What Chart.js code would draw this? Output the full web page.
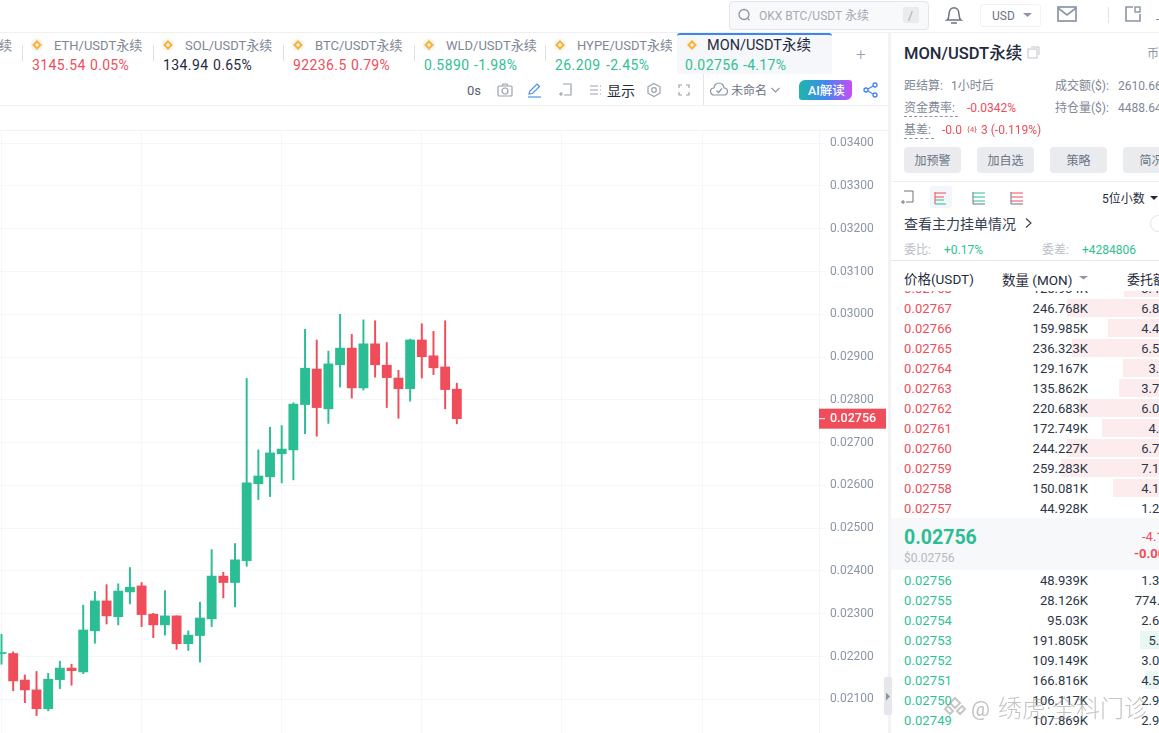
<!DOCTYPE html>
<html>
<head>
<meta charset="utf-8">
<title>MON/USDT</title>
<script src="https://cdn.jsdelivr.net/npm/chart.js@4"></script>
<style>
html,body{margin:0;padding:0;width:1159px;height:733px;overflow:hidden;background:#fff}
body{font-family:Roboto,"Noto Sans CJK SC",sans-serif;color:#1f2a3d;position:relative}
.t{position:absolute;white-space:nowrap;line-height:18px;transform:translateY(-8.5px)}
.b{position:absolute}
svg{position:absolute;overflow:visible}
#wrap{position:absolute;left:0;top:130px;width:887px;height:603px}
</style>
</head>
<body>
<div id="wrap"><canvas id="kline" width="887" height="603"></canvas></div>
<div id="ui"></div>
<script>
// candles
const candleIdx = [0,1,2,3,4,5,6,7,8,9,10,11,12,13,14,15,16,17,18,19,20,21,22,23,24,25,26,27,28,29,30,31,32,33,34,35,36,37,38,39]
const opens  = [.02207,.02207,.02145,.02122,.02078,.02146,.02173,.02164,.02260,.02330,.02293,.02351,.02365,.02299,.02274,.02295,.02230,.02249,.02288,.02388,.02373,.02424,.02604,.02620,.02674,.02683,.02789,.02872,.02779,.02882,.02921,.02828,.02931,.02881,.02851,.02826,.02940,.02903,.02877,.02825]
const highs  = [.02252,.02211,.02157,.02165,.02161,.02189,.02182,.02320,.02352,.02368,.02370,.02408,.02373,.02301,.02354,.02295,.02260,.02327,.02450,.02397,.02464,.02850,.02683,.02736,.02740,.02793,.02965,.02940,.02914,.03000,.02953,.02987,.02985,.02934,.02869,.02942,.02978,.02960,.02985,.02839]
const lows   = [.02182,.02120,.02092,.02062,.02073,.02125,.02133,.02160,.02231,.02276,.02274,.02323,.02270,.02244,.02250,.02217,.02214,.02187,.02270,.02337,.02316,.02411,.02567,.02574,.02606,.02613,.02721,.02715,.02745,.02830,.02804,.02823,.02853,.02782,.02757,.02797,.02851,.02859,.02779,.02744]
const closes = [.02207,.02143,.02122,.02078,.02147,.02173,.02167,.02262,.02330,.02295,.02353,.02362,.02298,.02274,.02295,.02230,.02250,.02290,.02388,.02373,.02426,.02606,.02622,.02676,.02685,.02790,.02874,.02782,.02884,.02921,.02828,.02931,.02882,.02852,.02826,.02940,.02901,.02875,.02824,.02756]
const priceTicks = [.034,.033,.032,.031,.03,.029,.028,.027,.026,.025,.024,.023,.022,.021]
const timeTicks = [0,12,24,36,48,60]

// order book
const askPrices = ['0.02768','0.02767','0.02766','0.02765','0.02764','0.02763','0.02762','0.02761','0.02760','0.02759','0.02758','0.02757']
const askQty = ['125.934K','246.768K','159.985K','236.323K','129.167K','135.862K','220.683K','172.749K','244.227K','259.283K','150.081K','44.928K']
const askAmt = ['3.486K','6.828K','4.425K','6.534K','3.57K','3.754K','6.095K','4.77K','6.741K','7.154K','4.139K','1.239K']
const askDepth = [35,92,51,87,36,40,80,57,92,98,46,0]
const bidPrices = ['0.02756','0.02755','0.02754','0.02753','0.02752','0.02751','0.02750','0.02749']
const bidQty = ['48.939K','28.126K','95.03K','191.805K','109.149K','166.816K','106.117K','107.869K']
const bidAmt = ['1.349K','774.871','2.617K','5.28K','3.003K','4.589K','2.918K','2.965K']
const bidDepth = [0,0,0,19,0,14,0,0]

// ticker tabs
const tabNames = ['ETH/USDT永续','SOL/USDT永续','BTC/USDT永续','WLD/USDT永续','HYPE/USDT永续','MON/USDT永续']
const tabPrices = ['3145.54','134.94','92236.5','0.5890','26.209','0.02756']
const tabChanges = ['0.05%','0.65%','0.79%','-1.98%','-2.45%','-4.17%']

const RED = '#f04d5a', GREEN = '#2bbd93', GREEN_TXT = '#30c192', GREY = '#7d8796', DARK = '#1f2a3d'
const candleColors = closes.map((c, i) => c >= opens[i] ? GREEN : RED)

const lastPriceTag = {
  id: 'lastPriceTag',
  afterDraw(chart) {
    const y = chart.scales.y
    const py = y.getPixelForValue(closes[closes.length - 1])
    const c = chart.ctx
    c.save()
    c.fillStyle = RED
    c.fillRect(819, py - 10, 67, 20)
    c.fillStyle = '#fff'
    c.fillRect(819, py - 0.5, 6, 1)
    c.font = '500 12.5px Roboto'
    c.textBaseline = 'middle'
    c.fillText('0.02756', 830, py + 0.5)
    c.restore()
  }
}

new Chart(document.getElementById('kline').getContext('2d'), {
  type: 'bar',
  data: {
    labels: candleIdx,
    datasets: [
      { data: candleIdx.map(i => [lows[i], highs[i]]), backgroundColor: candleColors, barThickness: 1.3, grouped: false },
      { data: candleIdx.map(i => [opens[i], closes[i]]), backgroundColor: candleColors, barThickness: 9.2, grouped: false, minBarLength: 1 }
    ]
  },
  options: {
    responsive: false,
    animation: false,
    plugins: { legend: { display: false }, tooltip: { enabled: false } },
    layout: { padding: 0 },
    scales: {
      x: {
        type: 'linear', min: -0.128, max: 70.02, offset: false,
        afterBuildTicks: s => { s.ticks = timeTicks.map(v => ({ value: v })) },
        ticks: { display: false },
        grid: { color: '#f6f7f9', drawTicks: false, offset: false },
        border: { display: false }
      },
      y: {
        position: 'right', min: 0.020212, max: 0.0343086,
        afterBuildTicks: s => { s.ticks = priceTicks.map(v => ({ value: v })) },
        afterFit: s => { s.width = 68; s.paddingTop = 0; s.paddingBottom = 0 },
        ticks: { callback: v => v.toFixed(5), color: '#8b95a5', font: { family: 'Roboto', size: 12 }, padding: 5 },
        grid: { color: '#f6f7f9', tickLength: 6 },
        border: { color: '#f3f4f6' }
      }
    }
  },
  plugins: [lastPriceTag]
})

// page around the chart
const ui = document.getElementById('ui')
function txt(x, y, s, size, color, extra) {
  const d = document.createElement('div')
  d.className = 't'
  d.textContent = s
  d.style.cssText = `left:${x}px;top:${y}px;font-size:${size}px;color:${color};${extra || ''}`
  ui.appendChild(d)
  return d
}
function box(x, y, w, h, css) {
  const d = document.createElement('div')
  d.className = 'b'
  d.style.cssText = `left:${x}px;top:${y}px;width:${w}px;height:${h}px;${css}`
  ui.appendChild(d)
  return d
}
function icon(x, y, inner) {
  const s = `<svg style="left:${x}px;top:${y}px" width="20" height="20" viewBox="0 0 20 20" fill="none">${inner}</svg>`
  ui.insertAdjacentHTML('beforeend', s)
}
function coin(cx, cy) {
  icon(cx - 10, cy - 10, `<circle cx="10" cy="10" r="6.5" fill="#f4f4f4"/><path d="M10 6.500l3.500 3.500-3.500 3.500-3.500-3.500z" fill="none" stroke="#f9b233" stroke-width="2"/>`)
}

// lines and panel
box(0, 32, 1159, 1, 'background:#eef0f4')
box(888, 33, 3, 700, 'background:#f2f3f7')
box(0, 105, 888, 1, 'background:#f0f2f5')
box(0, 130, 888, 1, 'background:#f0f2f5')

// top bar
box(729, 1, 198, 27, 'background:#f8f9fb;border:1px solid #e2e5ea;border-radius:4px')
icon(734, 5, `<circle cx="10" cy="9.500" r="5" stroke="#8b95a5" stroke-width="1.3"/><path d="M13.500 13.200l2 2" stroke="#8b95a5" stroke-width="1.3"/>`)
txt(759, 15, 'OKX BTC/USDT 永续', 12, '#a3a9b4')
box(903, 7, 16, 16, 'background:#e9ebee;border-radius:2px')
txt(908, 15, '/', 12, '#a3a9b4')
icon(944, 5, `<path d="M3 15c3-2 1-6 3-10 1.500-3 6.500-3 8 0 2 4 0 8 3 10z" stroke="#6b7482" stroke-width="1.500"/><path d="M7 18h6" stroke="#6b7482" stroke-width="1.500"/>`)
box(980, 4, 59, 21, 'border:1px solid #f2f3f5;border-radius:3px')
txt(992, 15, 'USD', 12, '#6b7482')
icon(1022, 6, `<path d="M1 7h9l-4.500 4z" fill="#8b95a5"/>`)
icon(1057, 5, `<rect x="1" y="2" width="18" height="14" stroke="#8b95a5" stroke-width="1.700"/><path d="M1 3l9 7 9-7" stroke="#8b95a5" stroke-width="1.700"/>`)
box(1108, 7, 1, 16, 'background:#dfe2e7')
icon(1124, 5, `<path d="M9 2H2v14h14V9" stroke="#8b95a5" stroke-width="1.600"/><rect x="11" y="2" width="5" height="5" stroke="#8b95a5" stroke-width="1.400"/>`)
box(1156, 19, 3, 1, 'background:#8b95a5')

// tabs
const tabX = [22, 153, 283, 414, 545, 676]
const tabPriceColor = [RED, DARK, RED, GREEN_TXT, GREEN_TXT, GREEN_TXT]
const tabChangeX = [90, 213, 351, 474, 606, 743]
txt(-1, 45, '续', 13, GREY)
box(677, 33, 155, 41, 'background:#f5f7fa;border-radius:3px;border-top:2px solid #3d84f5;box-sizing:border-box')
tabNames.forEach((n, i) => {
  const x = tabX[i]
  const active = i == 5
  if (!active) box(x, 45, 1, 16, 'background:#dde0e5')
  coin(x + (active ? 16 : 15), 45)
  const nameEl = txt(x + (active ? 31 : 32), 45, n, active ? 14.5 : 13, active ? DARK : GREY)
  if (i == 4) { nameEl.style.width = '95px'; nameEl.style.overflow = 'hidden' }
  txt(x + (active ? 9 : 10), 64, tabPrices[i], 14, tabPriceColor[i], 'letter-spacing:.4px')
  txt(tabChangeX[i], 64, tabChanges[i], 14, tabPriceColor[i], 'letter-spacing:.3px')
})
txt(856, 53, '+', 17, '#9aa2ad', 'font-weight:300')

// toolbar
txt(467, 90, '0s', 13, '#556070')
icon(495, 80, `<rect x="3" y="6" width="14" height="10" rx="1" stroke="#9aa2ad" stroke-width="1.200"/><circle cx="10" cy="11" r="3" stroke="#9aa2ad" stroke-width="1.200"/><path d="M7 6l1-2h4l1 2" stroke="#9aa2ad" stroke-width="1.200"/>`)
icon(525, 80, `<path d="M4 14l1-3 7-7 2.500 2.500-7 7z" stroke="#4a90e8" stroke-width="1.200"/><path d="M3 17h13" stroke="#4a90e8" stroke-width="1.200"/>`)
icon(555, 80, `<path d="M8 4h8v11H9" stroke="#9aa2ad" stroke-width="1.200"/><path d="M6 12v4M4 14h4" stroke="#9aa2ad" stroke-width="1.200"/>`)
icon(585, 80, `<path d="M5 6h11M5 10h11M5 14h11" stroke="#9aa2ad" stroke-width="1.200" stroke-dasharray="8 2"/>`)
txt(607, 90, '显示', 14, DARK)
icon(644, 80, `<path d="M10 3.500l6 3.300v6.400l-6 3.300-6-3.300V6.800z" stroke="#9aa2ad" stroke-width="1.200"/><circle cx="10" cy="10" r="2.300" stroke="#9aa2ad" stroke-width="1.200"/>`)
icon(674, 80, `<path d="M5 8V5h3M12 5h3v3M15 12v3h-3M8 15H5v-3" stroke="#9aa2ad" stroke-width="1.200"/>`)
box(703, 74, 1, 31, 'background:#e3e5e9')
icon(709, 80, `<path d="M5 15a3.500 3.500 0 0 1 0-7 5 5 0 0 1 10 0 3.500 3.500 0 0 1 0 7z" stroke="#8b95a5" stroke-width="1.200"/><path d="M7.500 10.500l2 2 3.500-4" stroke="#8b95a5" stroke-width="1.200"/>`)
txt(731, 90, '未命名', 12, '#6b7482')
icon(766, 80, `<path d="M5.500 8l4 4 4-4" stroke="#8b95a5" stroke-width="1.100"/>`)
box(799, 80, 53, 20, 'background:linear-gradient(90deg,#1fb5a8,#3f8af0 50%,#c94cf7);border-radius:6px 3px 6px 3px')
txt(808, 90, 'AI解读', 12.5, '#fff', 'font-weight:500')
icon(861, 79, `<circle cx="5" cy="11" r="2" stroke="#3d84f5" stroke-width="1.300"/><circle cx="14" cy="6" r="2" stroke="#3d84f5" stroke-width="1.300"/><circle cx="14" cy="16" r="2" stroke="#3d84f5" stroke-width="1.300"/><path d="M7 10l5-3M7 12l5 3" stroke="#3d84f5" stroke-width="1.300"/>`)

// market panel
txt(904, 53, 'MON/USDT永续', 16.5, DARK, 'font-weight:500')
icon(1024, 43, `<rect x="4" y="6" width="9" height="9" stroke="#bfc4cc"/><path d="M7 4h8v8" stroke="#bfc4cc"/>`)
txt(1147, 53, '币', 12, '#8b95a5')
txt(904, 85, '距结算:', 12, GREY)
txt(951, 85, '1小时后', 12, GREY)
txt(1055, 85, '成交额($):', 12, GREY)
txt(1118, 85, '2610.66', 12, GREY)
txt(904, 107, '资金费率:', 12, GREY)
box(904, 116, 54, 0, 'border-top:1px dashed #8b95a5')
txt(967, 107, '-0.0342%', 12, RED)
txt(1055, 107, '持仓量($):', 12, GREY)
txt(1118, 107, '4488.64', 12, GREY)
txt(904, 129, '基差:', 12, GREY)
box(904, 138, 30, 0, 'border-top:1px dashed #8b95a5')
txt(942, 129, '-0.0', 12, RED)
txt(967, 129, '{4}', 8, RED)
txt(981, 129, '3 (-0.119%)', 12, RED)
const btnLabels = ['加预警', '加自选', '策略', '简况']
const btnX = [904, 977, 1050, 1123]
btnLabels.forEach((s, i) => {
  box(btnX[i], 147, 57, 26, 'background:#e9ebef;border-radius:4px')
  txt(btnX[i], 160, s, 12, '#6b7482', 'width:57px;text-align:center')
})
box(891, 181, 268, 1, 'background:#eceef2')
box(930, 186, 22, 22, 'background:#f2f5f9;border-radius:3px')
icon(897, 187, `<path d="M7 4h9v11H9" stroke="#6b7482" stroke-width="1"/><path d="M6 13v4M4 15h4" stroke="#6b7482"/>`)
icon(931, 188, `<path d="M4 4v12M4 5h11M4 9h9" stroke="${RED}" stroke-width="1"/><path d="M4 12h9M4 16h11" stroke="${GREEN}" stroke-width="1"/>`)
icon(969, 188, `<path d="M4 4v12h12" stroke="#6b7482"/><path d="M4 5h12M4 9h12M4 13h12" stroke="${GREEN}"/>`)
icon(1007, 188, `<path d="M4 4v12h12" stroke="#6b7482"/><path d="M4 5h12M4 9h12M4 13h12" stroke="${RED}"/>`)
txt(1102, 198, '5位小数', 12, DARK)
icon(1149, 188, `<path d="M1 8h8l-4 4z" fill="${DARK}"/>`)
txt(904, 223, '查看主力挂单情况', 14, '#33404f')
icon(1019, 213, `<path d="M7 5.500l5 4.500-5 4.500" stroke="#33404f" stroke-width="1.100"/>`)
box(1150, 215, 20, 15, 'border:1px solid #dfe2e7;border-radius:9px')
txt(904, 249, '委比:', 12, '#b9bec7')
txt(944, 249, '+0.17%', 12, GREEN_TXT)
txt(1042, 249, '委差:', 12, '#b9bec7')
txt(1082, 249, '+4284806', 12, GREEN_TXT)
box(891, 260, 268, 1, 'background:#e6e8ec')
txt(904, 278, '价格(USDT)', 13.5, DARK)
txt(1002, 279, '数量 (MON)', 13.5, DARK)
icon(1079, 272, `<path d="M0 4h9l-4.500 3.500z" fill="#8b95a5"/>`)
txt(1127, 279, '委托额', 13, DARK)

// order book rows
const book = box(891, 291, 268, 442, 'overflow:hidden')
function row(y, price, qty, amt, depth, color, barColor) {
  const r = document.createElement('div')
  r.style.cssText = `position:absolute;left:0;top:${y - 9 - 291}px;width:268px;height:18px;font-size:13px;line-height:19px`
  const barW = depth ? Math.round(depth) : 0
  r.innerHTML = `<div style="position:absolute;right:0;top:0;height:18px;width:${barW}px;background:${barColor}"></div>` +
    `<span style="position:absolute;left:13px;color:${color};letter-spacing:.1px">${price}</span>` +
    `<span style="position:absolute;right:71px;color:#2b3648">${qty}</span>` +
    `<span style="position:absolute;left:180px;width:111px;text-align:right;color:#2b3648">${amt}</span>`
  book.appendChild(r)
}
askPrices.forEach((p, i) => row(288 + i * 20, p, askQty[i], askAmt[i], askDepth[i], RED, '#fdecee'))
bidPrices.forEach((p, i) => row(580 + i * 20, p, bidQty[i], bidAmt[i], bidDepth[i], GREEN_TXT, '#e8f7f2'))

// last price block
box(891, 518, 268, 52, 'background:#f7f8fa')
txt(904, 537, '0.02756', 19.5, GREEN, 'font-weight:700')
txt(904, 557, '$0.02756', 12, '#b4b9c2')
txt(1142, 536, '-4.17%', 13, RED)
txt(1134, 553, '-0.00120', 13, RED, 'font-weight:700')

// collapse handle
box(884, 677, 8, 38, 'background:#e5e7eb;border-radius:2px')
icon(885, 691, `<path d="M1 1.500l4 4-4 4z" fill="#8b95a5"/>`)

// watermark
icon(945, 697, `<path d="M10 1l5 5-5 5-5-5zM3 9l5 5-3 3-5-5zM17 9l-5 5 3 3 5-5z" stroke="rgba(160,160,160,.6)" stroke-width="2"/>`)
txt(971, 708, '@', 21, 'rgba(150,150,150,.6)')
txt(998, 708, '绣虎·全科门诊', 24, 'rgba(150,150,150,.55)', 'font-weight:300')
</script>
</body>
</html>
